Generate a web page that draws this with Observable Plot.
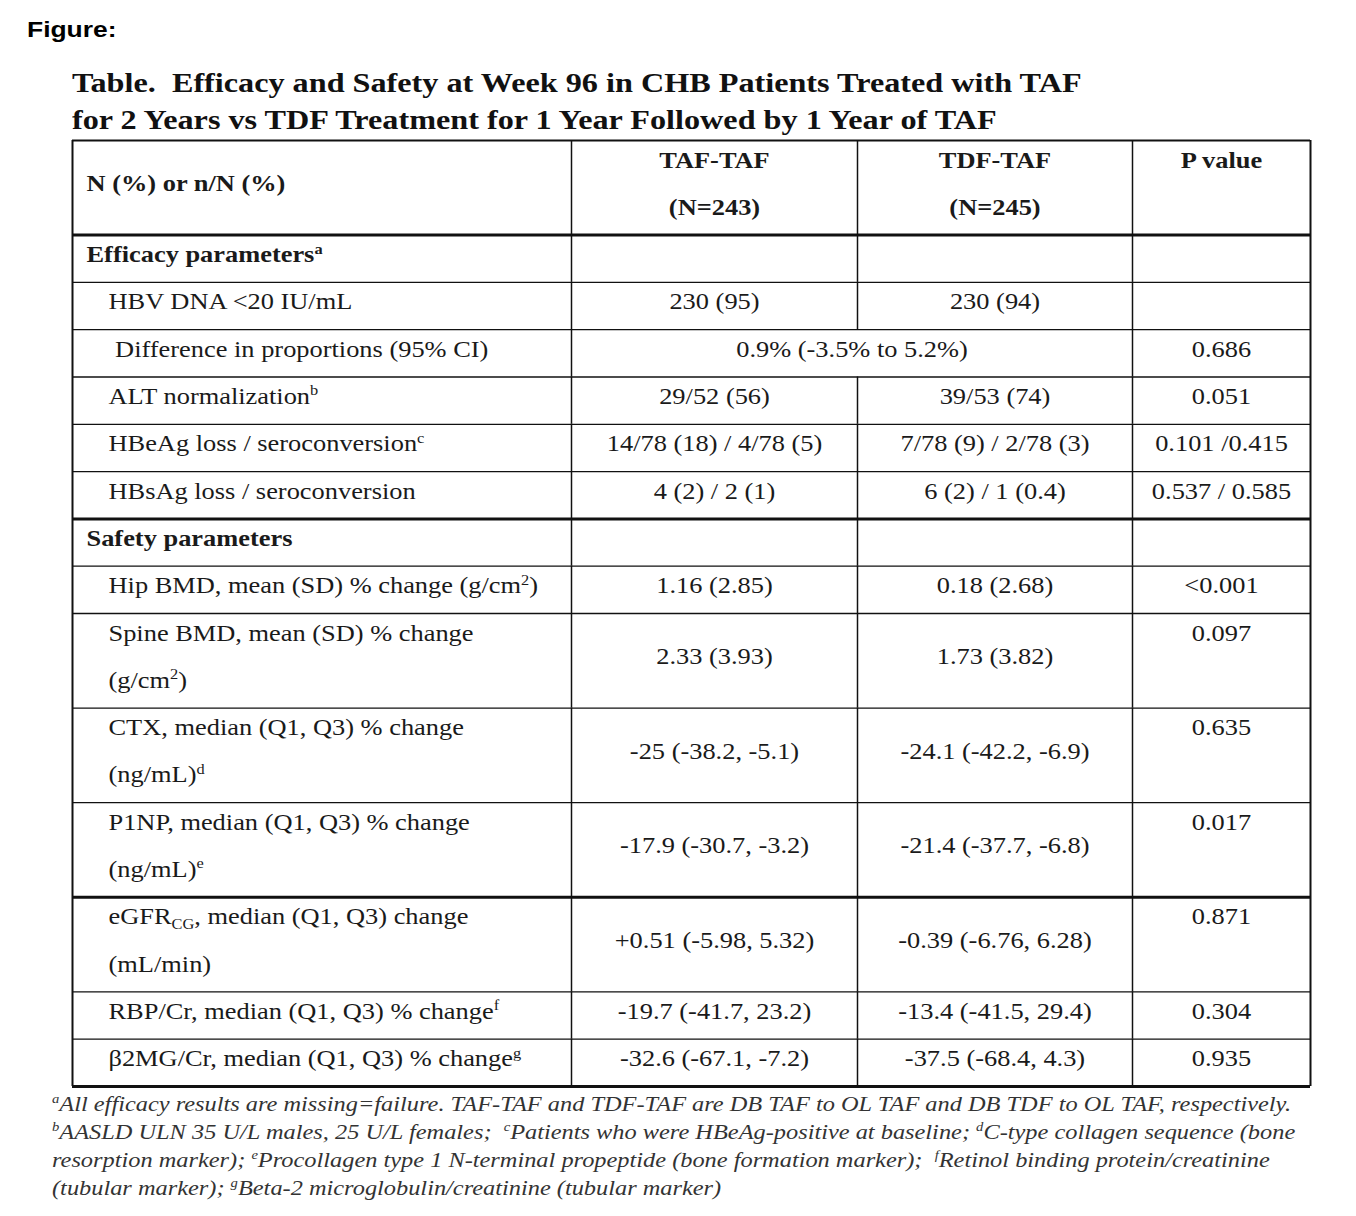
<!DOCTYPE html>
<html>
<head>
<meta charset="utf-8">
<script src="https://cdn.jsdelivr.net/npm/d3@7"></script>
<script src="https://cdn.jsdelivr.net/npm/@observablehq/plot@0.6"></script>
<style>
  html, body { margin: 0; padding: 0; background: #fff; }
  #page { position: relative; width: 1356px; height: 1216px; overflow: hidden; background: #fff; }
  #figlabel { position: absolute; left: 27px; top: 17px; font: bold 22px/26px "Liberation Sans", Arial, sans-serif; color: #000; transform: scaleX(1.2); transform-origin: 0 0; white-space: pre; }
  #title { position: absolute; left: 72px; top: 64px; font: bold 28px/37px "Liberation Serif", "Times New Roman", serif; color: #111; transform: scaleX(1.15); transform-origin: 0 0; white-space: pre; }
  #chart { position: absolute; left: 0; top: 120px; }
  #notes { position: absolute; left: 52px; top: 1090px; font: italic 21px/28px "Liberation Serif", "Times New Roman", serif; color: #333; transform: scaleX(1.16); transform-origin: 0 0; }
  #notes div { height: 28px; white-space: pre; }
  #notes sup { font-size: 60%; line-height: 0; vertical-align: baseline; position: relative; top: -0.6em; }
</style>
</head>
<body>
<div id="page">
  <div id="figlabel"></div>
  <div id="title"></div>
  <div id="chart"></div>
  <div id="notes"></div>
</div>
<script>
// ---------- content ----------
const figureLabel = "Figure:";
const titleLines = [
  "Table.  Efficacy and Safety at Week 96 in CHB Patients Treated with TAF",
  "for 2 Years vs TDF Treatment for 1 Year Followed by 1 Year of TAF"
];
const stubHeader = "N (%) or n/N (%)";
const groupNames = ["TAF-TAF", "TDF-TAF"];
const groupSizes = ["(N=243)", "(N=245)"];
const pHeader = "P value";

const rowLabels = [
  "Efficacy parameters^{a}",
  "HBV DNA <20 IU/mL",
  "\u00a0Difference in proportions (95% CI)",
  "ALT normalization^{b}",
  "HBeAg loss / seroconversion^{c}",
  "HBsAg loss / seroconversion",
  "Safety parameters",
  "Hip BMD, mean (SD) % change (g/cm^{2})",
  "Spine BMD, mean (SD) % change\n(g/cm^{2})",
  "CTX, median (Q1, Q3) % change\n(ng/mL)^{d}",
  "P1NP, median (Q1, Q3) % change\n(ng/mL)^{e}",
  "eGFR_{CG}, median (Q1, Q3) change\n(mL/min)",
  "RBP/Cr, median (Q1, Q3) % change^{f}",
  "β2MG/Cr, median (Q1, Q3) % change^{g}"
];
const rowLines = [1, 1, 1, 1, 1, 1, 1, 1, 2, 2, 2, 2, 1, 1];
const sectionRows = [0, 6];
const tafTaf = ["", "230 (95)", "", "29/52 (56)", "14/78 (18) / 4/78 (5)", "4 (2) / 2 (1)", "",
  "1.16 (2.85)", "2.33 (3.93)", "-25 (-38.2, -5.1)", "-17.9 (-30.7, -3.2)", "+0.51 (-5.98, 5.32)",
  "-19.7 (-41.7, 23.2)", "-32.6 (-67.1, -7.2)"];
const tdfTaf = ["", "230 (94)", "", "39/53 (74)", "7/78 (9) / 2/78 (3)", "6 (2) / 1 (0.4)", "",
  "0.18 (2.68)", "1.73 (3.82)", "-24.1 (-42.2, -6.9)", "-21.4 (-37.7, -6.8)", "-0.39 (-6.76, 6.28)",
  "-13.4 (-41.5, 29.4)", "-37.5 (-68.4, 4.3)"];
const pValues = ["", "", "0.686", "0.051", "0.101 /0.415", "0.537 / 0.585", "",
  "<0.001", "0.097", "0.635", "0.017", "0.871", "0.304", "0.935"];
const mergedRow = 2;
const mergedValue = "0.9% (-3.5% to 5.2%)";
const thickAfterRows = [5, 10, 13];

const footnoteLines = [
  "^{a}All efficacy results are missing=failure. TAF-TAF and TDF-TAF are DB TAF to OL TAF and DB TDF to OL TAF, respectively.",
  "^{b}AASLD ULN 35 U/L males, 25 U/L females;  ^{c}Patients who were HBeAg-positive at baseline; ^{d}C-type collagen sequence (bone",
  "resorption marker); ^{e}Procollagen type 1 N-terminal propeptide (bone formation marker);  ^{f}Retinol binding protein/creatinine",
  "(tubular marker); ^{g}Beta-2 microglobulin/creatinine (tubular marker)"
];

// ---------- layout ----------
const colWidths = [499, 286, 275, 178];
const edges = [0];
colWidths.forEach(w => edges.push(edges[edges.length - 1] + w));
const tableW = edges[4];
const centers = [1, 2, 3].map(i => (edges[i] + edges[i + 1]) / 2);
const headerUnits = 2;
const tops = [];
let acc = headerUnits;
rowLines.forEach(n => { tops.push(acc); acc += n; });
const totalUnits = acc;
const LINE = 0.41;
const FS = 24;
const SERIF = "Liberation Serif, Times New Roman, serif";

// header / title / notes HTML
document.getElementById("figlabel").textContent = figureLabel;
document.getElementById("title").textContent = titleLines.join("\n");
const esc = s => s.replace(/&/g, "&amp;").replace(/</g, "&lt;").replace(/>/g, "&gt;");
document.getElementById("notes").innerHTML = footnoteLines
  .map(l => "<div>" + esc(l).replace(/\^\{([^}]*)\}/g, "<sup>$1</sup>") + "</div>").join("");

// ---------- table data for marks ----------
const headerTexts = [
  {text: stubHeader, x: 14, y: LINE + 0.5, anchor: "start"},
  {text: groupNames[0], x: centers[0], y: LINE, anchor: "middle"},
  {text: groupSizes[0], x: centers[0], y: LINE + 1, anchor: "middle"},
  {text: groupNames[1], x: centers[1], y: LINE, anchor: "middle"},
  {text: groupSizes[1], x: centers[1], y: LINE + 1, anchor: "middle"},
  {text: pHeader, x: centers[2], y: LINE, anchor: "middle"}
];

const labelTexts = [];
rowLabels.forEach((lab, i) => {
  const section = sectionRows.includes(i);
  lab.split("\n").forEach((line, k) => {
    labelTexts.push({text: line, x: section ? 14 : 36, y: tops[i] + LINE + k, bold: section});
  });
});

const cellTexts = [];
rowLabels.forEach((_, i) => {
  const mid = tops[i] + LINE + (rowLines[i] - 1) / 2;
  if (i === mergedRow) {
    cellTexts.push({text: mergedValue, x: (edges[1] + edges[3]) / 2, y: mid});
  } else {
    cellTexts.push({text: tafTaf[i], x: centers[0], y: mid});
    cellTexts.push({text: tdfTaf[i], x: centers[1], y: mid});
  }
  cellTexts.push({text: pValues[i], x: centers[2], y: tops[i] + LINE});
});

const hLines = [{y: 0, w: 2}, {y: headerUnits, w: 3}];
rowLabels.forEach((_, i) => hLines.push({y: tops[i] + rowLines[i], w: thickAfterRows.includes(i) ? 3 : 1.3}));

const vLines = [{x: 0, y1: 0, y2: totalUnits, w: 2}, {x: tableW, y1: 0, y2: totalUnits, w: 2}];
const bands = [{top: 0, bottom: headerUnits, row: -1}].concat(
  rowLabels.map((_, i) => ({top: tops[i], bottom: tops[i] + rowLines[i], row: i})));
bands.forEach(b => {
  [edges[1], edges[2], edges[3]].forEach(e => {
    if (b.row === mergedRow && e === edges[2]) return;
    vLines.push({x: e, y1: b.top, y2: b.bottom, w: 1.5});
  });
});

const textOpts = {x: "x", y: "y", text: "text", fontFamily: SERIF, fontSize: FS, fill: "#1a1a1a", lineAnchor: "middle"};

const chart = Plot.plot({
  width: 1356,
  height: 976,
  marginLeft: 72,
  marginRight: 46,
  marginTop: 20,
  marginBottom: 10,
  x: {domain: [0, tableW], axis: null},
  y: {domain: [0, totalUnits], reverse: true, axis: null},
  style: {background: "transparent", overflow: "visible"},
  marks: [
    Plot.ruleY(hLines, {y: "y", x1: () => 0, x2: () => tableW, stroke: "#111", strokeWidth: "w"}),
    Plot.ruleX(vLines, {x: "x", y1: "y1", y2: "y2", stroke: "#111", strokeWidth: "w"}),
    Plot.text(headerTexts.filter(d => d.anchor === "start"), {...textOpts, textAnchor: "start", fontWeight: "bold"}),
    Plot.text(headerTexts.filter(d => d.anchor === "middle"), {...textOpts, textAnchor: "middle", fontWeight: "bold"}),
    Plot.text(labelTexts.filter(d => d.bold), {...textOpts, textAnchor: "start", fontWeight: "bold"}),
    Plot.text(labelTexts.filter(d => !d.bold), {...textOpts, textAnchor: "start"}),
    Plot.text(cellTexts.filter(d => d.text), {...textOpts, textAnchor: "middle"})
  ]
});

// rich text (super/subscripts) and slight horizontal stretch to match the reference typesetting
const NS = "http://www.w3.org/2000/svg";
chart.querySelectorAll("text").forEach(t => {
  const tr = t.getAttribute("transform");
  if (tr && /^translate\([^)]*\)$/.test(tr.trim())) t.setAttribute("transform", tr + " scale(1.1,1)");
  const s = t.textContent;
  if (/[\^_]\{/.test(s)) {
    t.textContent = "";
    const re = /([\^_])\{([^}]*)\}/g;
    let last = 0, m, shift = 0;
    const add = (str, kind) => {
      const sp = document.createElementNS(NS, "tspan");
      sp.textContent = str;
      const target = kind === "^" ? -0.36 * FS : kind === "_" ? 0.18 * FS : 0;
      const dy = target - shift;
      if (dy) sp.setAttribute("dy", dy);
      shift = target;
      if (kind) sp.setAttribute("font-size", 0.62 * FS);
      t.appendChild(sp);
    };
    while ((m = re.exec(s))) {
      if (m.index > last) add(s.slice(last, m.index), null);
      add(m[2], m[1]);
      last = re.lastIndex;
    }
    if (last < s.length) add(s.slice(last), null);
  }
});

document.getElementById("chart").appendChild(chart);
</script>
</body>
</html>
